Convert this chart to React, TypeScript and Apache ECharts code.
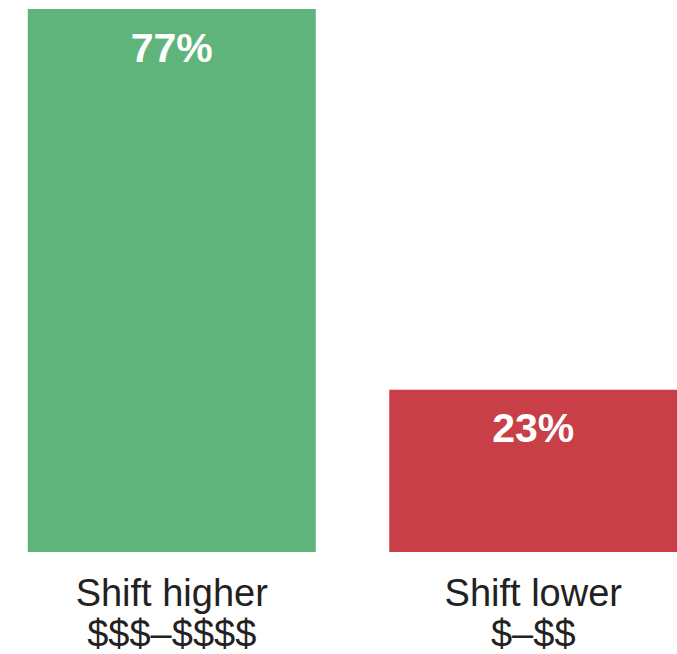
import React, { useEffect, useRef } from "react";
import * as echarts from "echarts";

const categories = ["Shift higher\n$$$–$$$$", "Shift lower\n$–$$"];
const values = [77, 23];
const colors = ["#5fb47b", "#c83f47"];

export default function App() {
  const ref = useRef<HTMLDivElement>(null);
  useEffect(() => {
    const chart = echarts.init(ref.current!, null, { renderer: "svg" });
    chart.setOption({
      animation: false,
      grid: { left: 0, right: 0, top: 9, bottom: 98, containLabel: false },
      xAxis: {
        type: "category",
        data: categories,
        axisLine: { show: false },
        axisTick: { show: false },
        axisLabel: {
          color: "#222222",
          fontFamily: "Liberation Sans, Arial, sans-serif",
          fontSize: 38,
          lineHeight: 41,
          margin: 20,
        },
      },
      yAxis: { type: "value", min: 0, max: 77, show: false, splitLine: { show: false } },
      series: [
        {
          type: "bar",
          barWidth: 288,
          data: values.map((v, i) => ({ value: v, itemStyle: { color: colors[i] } })),
          label: {
            show: true,
            position: "insideTop",
            distance: 18,
            formatter: "{c}%",
            color: "#ffffff",
            fontWeight: "bold",
            fontFamily: "Liberation Sans, Arial, sans-serif",
            fontSize: 41,
          },
        },
      ],
    });
    return () => chart.dispose();
  }, []);
  return (
    <div style={{ position: "absolute", left: 0, top: 0, width: 677, height: 654, overflow: "hidden" }}>
      <div
        ref={ref}
        style={{ position: "absolute", left: -9, top: 0, width: 723, height: 654 }}
      />
    </div>
  );
}
